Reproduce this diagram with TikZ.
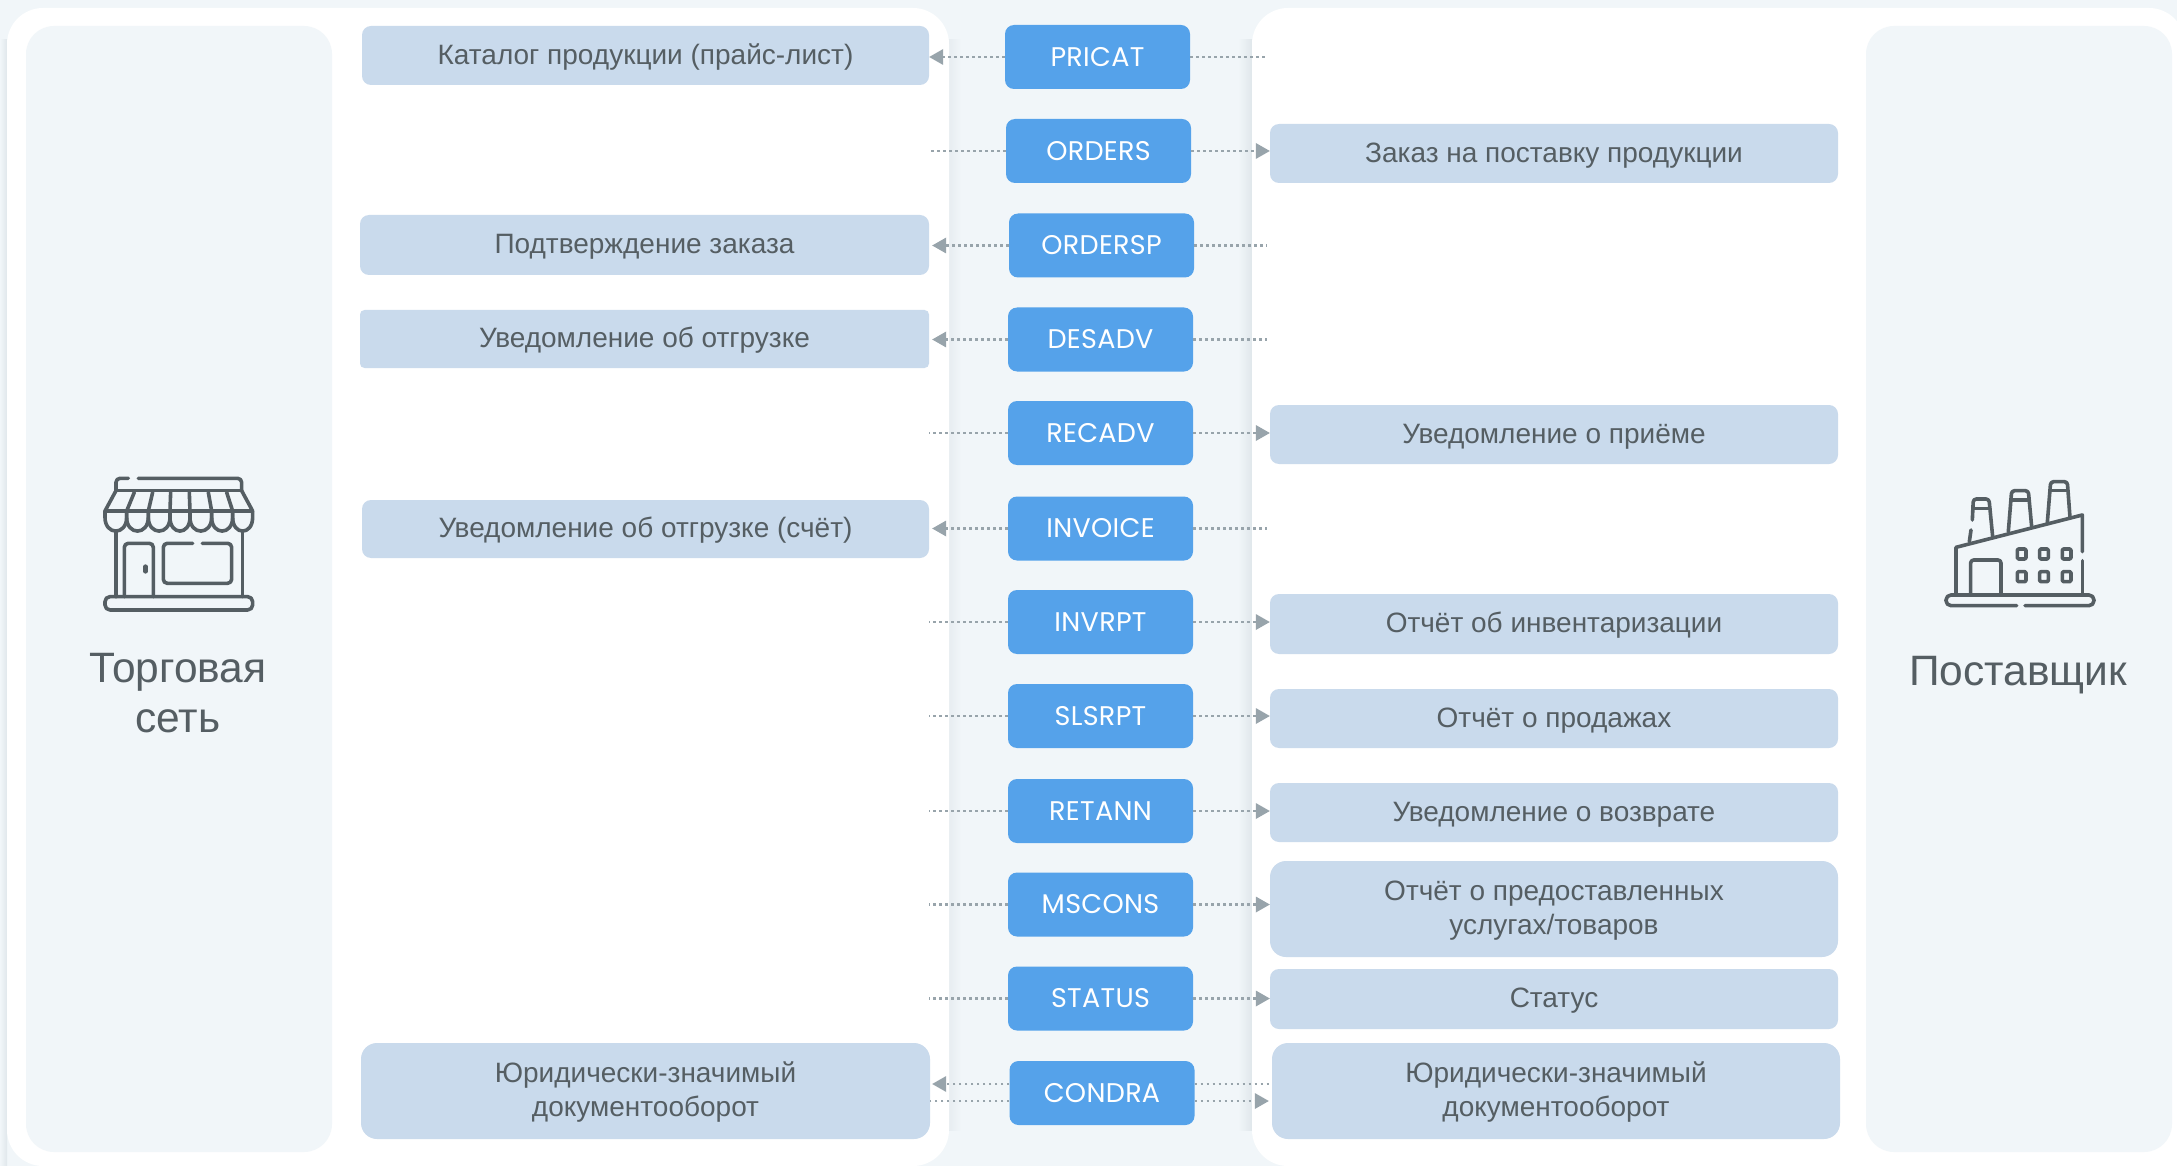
\documentclass[tikz,border=0pt]{standalone}
\usepackage{fontspec}
\setmainfont{Liberation Sans}
\newfontfamily\codefont[LetterSpace=1.2]{Poppins}
\usetikzlibrary{arrows.meta}
\definecolor{bgc}{HTML}{F1F6F9}
\definecolor{shl}{HTML}{E7EDF1}
\definecolor{shr}{HTML}{E0E7EB}
\definecolor{lbl}{HTML}{C9DAEC}
\definecolor{blu}{HTML}{55A2EA}
\definecolor{txt}{HTML}{555E63}
\definecolor{con}{HTML}{98A4AB}
\newcommand\lbltext[1]{\raisebox{-8.3pt}[0pt][0pt]{\begin{tabular}{@{}c@{}}#1\end{tabular}}}
\tikzset{
  panel/.style={fill=white,draw=none,rounded corners=36pt},
  inner/.style={fill=bgc,draw=none,rounded corners=28pt},
  lbox/.style={fill=lbl,draw=none,rounded corners=9pt,inner sep=0pt,minimum width=568pt,minimum height=59pt,
     text=txt,font=\fontsize{28}{34}\selectfont},
  codebox/.style={fill=blu,draw=none,rounded corners=9pt,inner sep=0pt,minimum width=185pt,minimum height=64pt,
     text=white,font=\codefont\fontsize{27}{30}\selectfont},
  flow/.style={draw=con,line width=2.6pt,dash pattern=on 2.4pt off 3.6pt},
  toarrow/.style={flow,-{Triangle[length=14pt,width=16pt,fill=con,line width=0pt,sep=0pt]}},
  ttl/.style={text=txt,align=center,font=\fontsize{42.5}{50}\selectfont,inner sep=0pt},
  ico/.style={draw=txt,line width=3.6pt,line cap=round,line join=round},
}
\begin{document}
\begin{tikzpicture}[x=1pt,y=-1pt]
\useasboundingbox (0,0) rectangle (2177,1166);
\fill[bgc] (0,0) rectangle (2177,1166);
% soft panel shadows
\shade[left color=shl,right color=bgc] (949,40) rectangle (961,1130);
\shade[left color=bgc,right color=shr] (1238,40) rectangle (1252,1130);
\shade[left color=bgc,right color=shr] (0,40) rectangle (7,1166);
\path[panel] (7,8) rectangle (949,1166);
\path[panel] (1252,8) rectangle (2185,1166);
\fill[white] (1300,1100) rectangle (2177,1166);
\path[inner] (26,26) rectangle (332,1152);
\path[inner] (1866,26) rectangle (2172,1152);

% left labels
\node[lbox,minimum width=567pt] (kat) at (645.5,55.5) {\lbltext{Каталог продукции (прайс-лист)}};
\node[lbox,minimum width=569pt,minimum height=60pt] (podt) at (644.5,245) {\lbltext{Подтверждение заказа}};
\node[lbox,minimum width=569pt,minimum height=58pt,rounded corners=4.5pt] (uvotg) at (644.5,339) {\lbltext{Уведомление об отгрузке}};
\node[lbox,minimum width=567pt,minimum height=58pt] (uvsch) at (645.5,529) {\lbltext{Уведомление об отгрузке (счёт)}};
\node[lbox,minimum width=569pt,minimum height=96pt,rounded corners=16pt] (yurl) at (645.5,1091) {\lbltext{Юридически-значимый\\документооборот}};
% right labels
\node[lbox] (zak) at (1554,153.5) {\lbltext{Заказ на поставку продукции}};
\node[lbox] (pri) at (1554,434.5) {\lbltext{Уведомление о приёме}};
\node[lbox,minimum height=60pt] (inv) at (1554,624) {\lbltext{Отчёт об инвентаризации}};
\node[lbox] (prod) at (1554,718.5) {\lbltext{Отчёт о продажах}};
\node[lbox] (voz) at (1554,812.5) {\lbltext{Уведомление о возврате}};
\node[lbox,minimum height=96pt,rounded corners=16pt] (usl) at (1554,909) {\lbltext{Отчёт о предоставленных\\услугах/товаров}};
\node[lbox,minimum height=60pt] (stat) at (1554,999) {\lbltext{Статус}};
\node[lbox,minimum height=96pt,rounded corners=16pt] (yurr) at (1556,1091) {\lbltext{Юридически-значимый\\документооборот}};

% code boxes
\node[codebox] (PRICAT) at (1097.5,57) {PRICAT};
\node[codebox] (ORDERS) at (1098.5,151) {ORDERS};
\node[codebox] (ORDERSP) at (1101.5,245.5) {ORDERSP};
\node[codebox] (DESADV) at (1100.5,339.5) {DESADV};
\node[codebox] (RECADV) at (1100.5,433) {RECADV};
\node[codebox] (INVOICE) at (1100.5,528.5) {INVOICE};
\node[codebox] (INVRPT) at (1100.5,622) {INVRPT};
\node[codebox] (SLSRPT) at (1100.5,716) {SLSRPT};
\node[codebox] (RETANN) at (1100.5,811) {RETANN};
\node[codebox] (MSCONS) at (1100.5,904.5) {MSCONS};
\node[codebox] (STATUS) at (1100.5,998.5) {STATUS};
\node[codebox] (CONDRA) at (1102,1093) {CONDRA};

\coordinate (lx) at (929,0);
\coordinate (rx) at (1267,0);

% arrows to the chain (left) with dotted stub to the supplier
\draw[toarrow] (PRICAT.west) -- (PRICAT.west -| kat.east);
\draw[flow] (PRICAT.east) -- (PRICAT.east -| rx);
\foreach \c/\b in {ORDERSP/podt,DESADV/uvotg,INVOICE/uvsch}{
  \draw[toarrow,shorten >=3pt] (\c.west) -- (\c.west -| \b.east);
  \draw[flow] (\c.east) -- (\c.east -| rx);
}
% arrows to the supplier (right) with dotted stub from the chain
\foreach \c/\b in {ORDERS/zak,RECADV/pri,INVRPT/inv,SLSRPT/prod,RETANN/voz,MSCONS/usl,STATUS/stat}{
  \draw[flow] (\c.west) -- (\c.west -| lx);
  \draw[toarrow] (\c.east) -- (\c.east -| \b.west);
}
% CONDRA both ways
\draw[toarrow,shorten >=2pt] ([yshift=9pt]CONDRA.west) -- ([yshift=9pt]CONDRA.west -| yurl.east);
\draw[flow] ([yshift=-8pt]CONDRA.west) -- ([yshift=-8pt]CONDRA.west -| yurl.east);
\draw[flow] ([yshift=9pt]CONDRA.east) -- ([yshift=9pt]CONDRA.east -| yurr.west);
\draw[toarrow,shorten >=3pt] ([yshift=-8pt]CONDRA.east) -- ([yshift=-8pt]CONDRA.east -| yurr.west);

% titles
\node[ttl] (net) at (178,693) {Торговая\\сеть};
\node[ttl] (sup) at (2018,675) {Поставщик};

% store icon
\begin{scope}[shift={(0,430)},x=0.3333pt,y=-0.3333pt]
  \draw[ico,rounded corners=4pt] (385,145) -- (348,145) -- (348,182);
  \draw[ico,rounded corners=4pt] (415,145) -- (725,145) -- (725,182);
  \draw[ico] (348,182) -- (725,182);
  \draw[ico] (348,182) -- (315,243) -- (758,243) -- (725,182);
  \foreach \a/\b in {403/380,458/445,512/510,568/570,625/635,680/698}{\draw[ico] (\a,187) -- (\b,243);}
  \foreach \a/\b in {315/380,380/445,445/510,510/570,570/635,635/698,698/758}{
    \draw[ico] (\a,243) -- (\a,262) .. controls (\a,317) and (\b,317) .. (\b,262) -- (\b,243);}
  \draw[ico] (348,305) -- (348,500);
  \draw[ico] (727,305) -- (727,500);
  \draw[ico,rounded corners=4pt] (373,500) -- (373,340) -- (460,340) -- (460,500);
  \draw[ico,line width=4.6pt] (436,410) -- (436,424);
  \draw[ico,rounded corners=4pt] (578,340) -- (490,340) -- (490,460) -- (695,460) -- (695,340) -- (607,340);
  \draw[ico,rounded corners=5pt] (315,500) rectangle (758,540);
\end{scope}

% factory icon
\begin{scope}[shift={(1840,430)},x=0.3333pt,y=-0.3333pt]
  \draw[ico] (727,365) -- (727,255) -- (348,352) -- (348,495);
  \draw[ico] (727,392) -- (727,495);
  \draw[ico,rounded corners=3pt] (392,495) -- (392,390) -- (483,390) -- (483,495);
  \foreach \x in {545,612,680}{\foreach \y in {372,440}{
    \draw[ico,rounded corners=1.2pt] (\x-13,\y-15) rectangle (\x+13,\y+15);}}
  \draw[ico,rounded corners=5pt] (530,527) -- (318,527) -- (318,495) -- (762,495) -- (762,527) -- (555,527);
  \draw[ico] (388,335) -- (393,300);
  \draw[ico,rounded corners=3pt] (397,270) -- (400,207) -- (447,207) -- (458,320);
  \draw[ico] (399,235) -- (450,235);
  \draw[ico,rounded corners=3pt] (505,305) -- (515,182) -- (565,182) -- (575,290);
  \draw[ico] (513,210) -- (567,210);
  \draw[ico,rounded corners=3pt] (622,278) -- (632,155) -- (682,155) -- (690,262);
  \draw[ico] (630,182) -- (684,182);
\end{scope}
\end{tikzpicture}
\end{document}
